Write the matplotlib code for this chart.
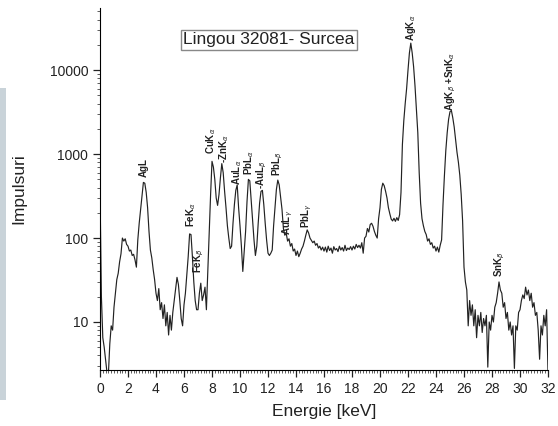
import matplotlib
matplotlib.use("Agg")
import matplotlib.pyplot as plt
import numpy as np
from matplotlib.ticker import MultipleLocator, LogLocator, FuncFormatter, NullFormatter
from matplotlib.patches import Rectangle

plt.rcParams['font.family'] = ['Liberation Sans', 'DejaVu Sans']

# spectrum, one value per 0.1 keV channel (0.0 .. 32.0 keV)
step_kev = 0.1
counts = [
    370, 20, 6.5, 5, 3.5, 2.5, 2.4, 5.5, 9, 8,                 # 0
    15, 22, 32, 38, 52, 65, 100, 92, 98, 84,                   # 1
    80, 70, 72, 62, 64, 55, 45, 95, 150, 220,                  # 2
    320, 460, 450, 350, 230, 120, 72, 58, 42, 32,              # 3
    22, 18, 25, 14, 17, 11, 16, 9, 13, 7,                      # 4
    12, 8, 13, 18, 25, 34, 28, 18, 11, 9,                      # 5
    16, 22, 36, 60, 112, 110, 60, 30, 18, 14,                  # 6
    14, 22, 29, 18, 21, 26, 14, 40, 120, 330,                  # 7
    820, 700, 500, 300, 245, 330, 520, 770, 600, 360,          # 8
    230, 140, 100, 75, 80, 150, 250, 370, 430, 230,            # 9
    140, 80, 40, 70, 120, 270, 500, 480, 280, 170,             # 10
    95, 62, 80, 150, 260, 360, 370, 250, 150, 95,              # 11
    66, 62, 66, 72, 140, 230, 380, 490, 430, 310,              # 12
    220, 130, 108, 114, 92, 98, 80, 86, 70, 74,                # 13
    62, 70, 60, 66, 74, 80, 92, 108, 125, 115,                 # 14
    100, 94, 88, 92, 82, 86, 76, 80, 72, 78,                   # 15
    70, 78, 68, 80, 71, 76, 66, 79, 72, 75,                    # 16
    69, 80, 72, 77, 70, 82, 71, 76, 73, 79,                    # 17
    72, 80, 74, 84, 77, 82, 76, 88, 66, 100,                   # 18
    105, 130, 118, 145, 150, 138, 120, 108, 100, 170,          # 19
    230, 380, 450, 420, 360, 300, 230, 195, 168, 160,          # 20
    172, 158, 175, 162, 190, 350, 1300, 2500, 4000, 6000,      # 21
    10000, 16000, 21000, 16000, 11000, 6500, 3500, 1800, 600, 260,  # 22
    170, 140, 120, 110, 92, 98, 84, 88, 76, 80,                # 23
    70, 78, 68, 82, 95, 250, 550, 1100, 1800, 2600,            # 24
    3200, 3300, 2700, 2100, 1500, 1050, 800, 560, 330, 160,    # 25
    45, 30, 24, 9, 18, 12, 16, 9, 14, 6.5,                     # 26
    12, 9, 13, 7.5, 11, 9, 12, 2.9, 10, 8,                     # 27
    12, 10, 15, 17, 22, 30, 24, 22, 15, 17,                    # 28
    11, 13, 8, 10, 7, 9, 2.8, 9, 8, 13,                        # 29
    14, 18, 21, 19, 26, 21, 24, 18, 22, 15,                    # 30
    17, 12, 13, 8, 3.6, 9, 7, 12, 9, 14,                       # 31
    2.5,
]
energy = np.arange(len(counts)) * step_kev

# peak labels: text, energy (keV), counts at the foot of the label
peak_names = [r'AgL', r'FeK$_\alpha$', r'FeK$_\beta$', r'CuK$_\alpha$', r'-ZnK$_\alpha$',
              r'AuL$_\alpha$', r'PbL$_\alpha$', r'-AuL$_\beta$', r'PbL$_\beta$', r'AuL$_\gamma$',
              r'PbL$_\gamma$', r'AgK$_\alpha$', r'AgK$_\beta$ +SnK$_\alpha$', r'SnK$_\beta$']
peak_kev = [3.15, 6.5, 7.07, 7.9, 8.86, 9.8, 10.65, 11.55, 12.72, 13.38,
            14.8, 22.21, 25.07, 28.55]
peak_foot = [540, 135, 38, 1000, 790, 430, 560, 380, 550, 110,
             131, 22000, 3300, 34]

fig = plt.figure(figsize=(5.58, 4.26), dpi=100)
fig.patches.append(Rectangle((0, 0.061), 6 / 558, 0.732, transform=fig.transFigure,
                             facecolor='#c9d3d9', edgecolor='none', zorder=0))
ax = fig.add_axes([100 / 558, 56 / 426, 448 / 558, 362 / 426])

ax.plot(energy, counts, color='#222222', lw=0.85)

ax.set_yscale('log')
ax.set_xlim(0, 32)
ax.set_ylim(2.68, 55000)

ax.spines['top'].set_visible(False)
ax.spines['right'].set_visible(False)
ax.xaxis.set_major_locator(MultipleLocator(2))
ax.xaxis.set_minor_locator(MultipleLocator(0.2))
ax.yaxis.set_major_locator(LogLocator(base=10, numticks=10))
ax.yaxis.set_minor_locator(LogLocator(base=10, subs=np.arange(2, 10), numticks=20))
ax.yaxis.set_major_formatter(FuncFormatter(lambda v, p: f'{v:.0f}'))
ax.yaxis.set_minor_formatter(NullFormatter())
ax.tick_params(which='major', direction='out', length=5, width=0.9, labelsize=10, colors='#222')
ax.tick_params(which='minor', direction='out', length=2.5, width=0.6, colors='#444')

ax.set_xlabel('Energie [keV]', fontsize=12.5, color='#222', labelpad=6)
ax.set_ylabel('Impulsuri', fontsize=12.5, color='#222', labelpad=17)

for name, e, c in zip(peak_names, peak_kev, peak_foot):
    ax.text(e, c, name, rotation=90, ha='center', va='bottom', fontsize=7,
            fontweight='bold', color='#222')

ax.text(0.377, 0.912, 'Lingou 32081- Surcea', transform=ax.transAxes, ha='center',
        va='center', fontsize=12.5, color='#222',
        bbox=dict(boxstyle='square,pad=0.15', facecolor='white', edgecolor='#888', lw=1))

fig.savefig('out.png', dpi=100)
